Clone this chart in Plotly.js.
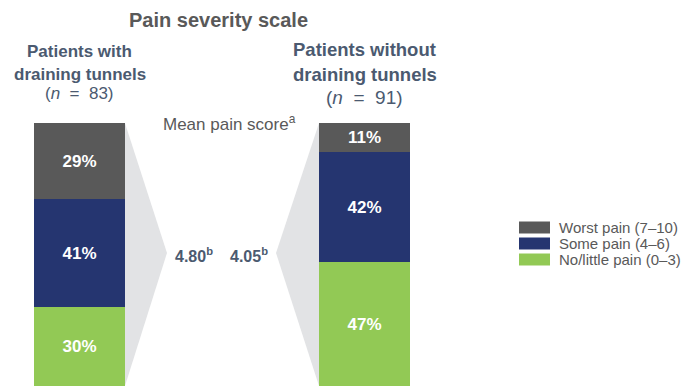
<!DOCTYPE html>
<html><head><meta charset="utf-8">
<script src="https://cdn.plot.ly/plotly-3.0.1.min.js"></script>
<style>html,body{margin:0;padding:0;background:#fff}#chart{width:682px;height:387px}</style>
</head><body><div id="chart"></div>
<script>
var groups = ['with', 'without'];
var groupTitles = ['Patients with', 'Patients without'];
var groupN = [83, 91];
var seriesNames = ['No/little pain (0–3)', 'Some pain (4–6)', 'Worst pain (7–10)'];
var noPain = [30, 47];
var somePain = [41, 42];
var worstPain = [29, 11];
var meanScores = ['4.80', '4.05'];
var colors = ['#92c955', '#253570', '#595959'];

var seriesValues = [noPain, somePain, worstPain];
var BW = 0.319;
var traces = seriesValues.map(function (vals, i) {
  return {
    type: 'bar', x: groups, y: vals, name: seriesNames[i],
    width: BW, marker: {color: colors[i], line: {width: 0}},
    texttemplate: '%{y}%', textposition: 'inside', insidetextanchor: 'middle',
    textfont: {family: 'Liberation Sans, Arial, sans-serif', size: 17, color: '#ffffff', weight: 'bold'},
    showlegend: false, hoverinfo: 'skip'
  };
});

function py(p) { return 1 - p / 387; }
var hdr = '#4b5a70';
var anns = [
  {text: '<b>Pain severity scale</b>', xref: 'paper', x: 218.5 / 682, y: py(20), font: {size: 20, color: '#595959'}},
  {text: '<b>' + groupTitles[0] + '</b>', xref: 'x', x: 0, y: py(52), font: {size: 17, color: hdr}},
  {text: '<b>draining tunnels</b>', xref: 'x', x: 0, y: py(74), font: {size: 17, color: hdr}},
  {text: '(<i>n</i>  =  ' + groupN[0] + ')', xref: 'x', x: 0, y: py(93), font: {size: 17, color: hdr}},
  {text: '<b>' + groupTitles[1] + '</b>', xref: 'x', x: 1.0, y: py(50), font: {size: 18.5, color: hdr}},
  {text: '<b>draining tunnels</b>', xref: 'x', x: 1.0, y: py(74), font: {size: 18.5, color: hdr}},
  {text: '(<i>n</i>  =  ' + groupN[1] + ')', xref: 'x', x: 1.0, y: py(98), font: {size: 19, color: hdr}},
  {text: 'Mean pain score<sup>a</sup>', xref: 'paper', x: 230 / 682, y: py(123), font: {size: 17, color: '#595959'}},
  {text: '<b>' + meanScores[0] + '<sup>b</sup></b>', xref: 'paper', x: 194 / 682, y: py(255), font: {size: 16, color: hdr}},
  {text: '<b>' + meanScores[1] + '<sup>b</sup></b>', xref: 'paper', x: 249 / 682, y: py(255), font: {size: 16, color: hdr}}
];
anns.forEach(function (a) { a.yref = 'paper'; a.showarrow = false; a.xanchor = 'center'; a.yanchor = 'middle'; a.font.family = 'Liberation Sans, Arial, sans-serif'; });

var shapes = [
  {type: 'path', xref: 'x', yref: 'y', path: 'M0.1595,100 L0.307,50.6 L0.1595,0 Z', fillcolor: '#e2e3e5', line: {width: 0}, layer: 'below'},
  {type: 'path', xref: 'x', yref: 'y', path: 'M0.8405,100 L0.6895,50.6 L0.8405,0 Z', fillcolor: '#e2e3e5', line: {width: 0}, layer: 'below'}
];
// legend (top to bottom: worst, some, none)
var legOrder = [2, 1, 0];
legOrder.forEach(function (si, k) {
  var cy = 227.5 + k * 16;
  shapes.push({type: 'rect', xref: 'paper', yref: 'paper', x0: 519 / 682, x1: 550 / 682, y0: py(cy + 6), y1: py(cy - 6), fillcolor: colors[si], line: {width: 0}});
  anns.push({text: seriesNames[si], xref: 'paper', yref: 'paper', x: 557 / 682, y: py(cy), xanchor: 'left', yanchor: 'middle', showarrow: false, font: {family: 'Liberation Sans, Arial, sans-serif', size: 15, color: '#595959'}});
});

var layout = {
  width: 682, height: 387, margin: {l: 0, r: 0, t: 0, b: 0},
  paper_bgcolor: '#ffffff', plot_bgcolor: '#ffffff',
  barmode: 'stack', showlegend: false,
  xaxis: {type: 'category', categoryarray: groups, range: [-79.5 / 285, (682 - 79.5) / 285], visible: false, fixedrange: true},
  yaxis: {range: [-1 / 2.63, 386 / 2.63], visible: false, fixedrange: true},
  annotations: anns, shapes: shapes
};
Plotly.newPlot('chart', traces, layout, {displayModeBar: false, staticPlot: true});
</script></body></html>
